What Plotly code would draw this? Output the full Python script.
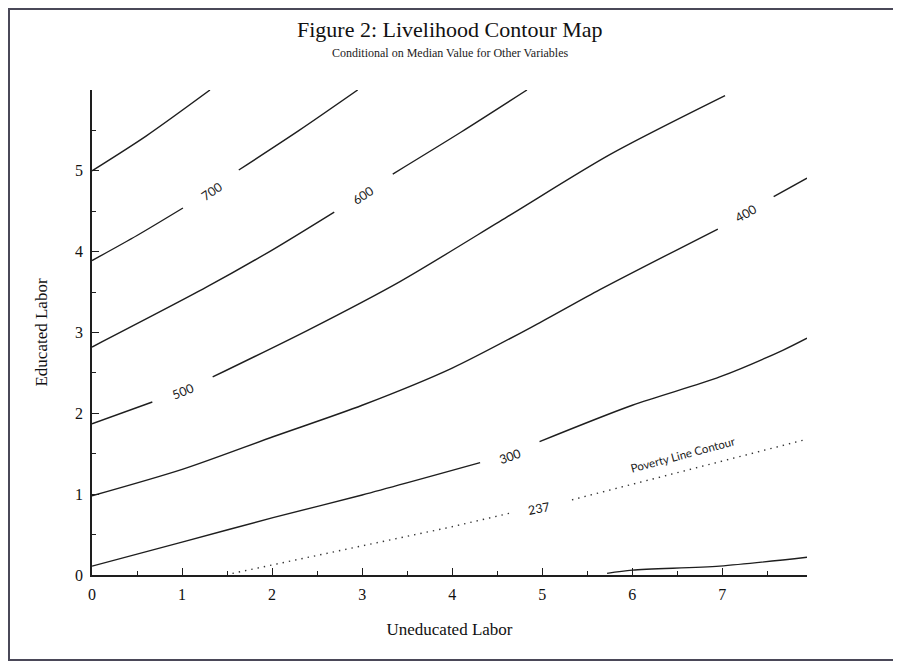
import plotly.graph_objects as go

# ---------------- data ----------------
x_ticks = [0, 1, 2, 3, 4, 5, 6, 7]
y_ticks = [0, 1, 2, 3, 4, 5]
x_minor = [0.5, 1.5, 2.5, 3.5, 4.5, 5.5, 6.5, 7.5]
y_minor = [0.5, 1.5, 2.5, 3.5, 4.5, 5.5]

# contour lines (None = gap where the label sits)
x_800 = [0.0, 0.6, 1.31]
y_800 = [5.0, 5.43, 6.0]

x_700 = [0.0, 0.5, 1.01, None, 1.63, 2.3, 2.95]
y_700 = [3.89, 4.2, 4.54, None, 5.01, 5.5, 6.0]

x_600 = [0.0, 1.27, 2.0, 2.69, None, 3.34, 4.1, 4.83]
y_600 = [2.82, 3.56, 4.02, 4.49, None, 4.96, 5.48, 6.0]

x_500 = [0.0, 0.67, None, 1.34, 2.4, 3.42, 4.61, 5.75, 7.03]
y_500 = [1.87, 2.14, None, 2.45, 3.03, 3.63, 4.43, 5.20, 5.93]

x_400 = [0.0, 1.01, 2.01, 3.0, 4.0, 4.97, 5.64, 6.95, None, 7.57, 7.94]
y_400 = [0.98, 1.31, 1.71, 2.1, 2.56, 3.12, 3.53, 4.28, None, 4.68, 4.91]

x_300 = [0.0, 1.01, 2.01, 3.0, 4.31, None, 4.97, 6.0, 6.97, 7.67, 7.94]
y_300 = [0.11, 0.41, 0.71, 0.99, 1.39, None, 1.65, 2.1, 2.45, 2.78, 2.93]

x_237 = [1.56, 3.42, 3.97, 4.66, None, 5.33, 7.94]
y_237 = [0.02, 0.46, 0.59, 0.77, None, 0.93, 1.68]

x_200 = [5.72, 6.0, 6.97, 7.94]
y_200 = [0.02, 0.06, 0.11, 0.22]

# contour labels: text, x, y, angle
label_text = ["700", "600", "500", "400", "300", "237", "Poverty Line Contour"]
label_x = [1.33, 3.01, 1.01, 7.26, 4.64, 4.96, 6.56]
label_y = [4.74, 4.70, 2.27, 4.47, 1.47, 0.82, 1.49]
label_angle = [-34, -33, -22, -30, -19, -11, -15]

title_text = "Figure 2: Livelihood Contour Map"
subtitle_text = "Conditional on Median Value for Other Variables"
x_title = "Uneducated Labor"
y_title = "Educated Labor"

# ---------------- figure ----------------
LINE = "#1e1e1e"
fig = go.Figure()

solid = [(x_800, y_800), (x_700, y_700), (x_600, y_600), (x_500, y_500),
         (x_400, y_400), (x_300, y_300), (x_200, y_200)]
for xs, ys in solid:
    fig.add_trace(go.Scatter(x=xs, y=ys, mode="lines", connectgaps=False,
                             line=dict(color=LINE, width=1.4, shape="spline", smoothing=0.8),
                             hoverinfo="skip", showlegend=False))

fig.add_trace(go.Scatter(x=x_237, y=y_237, mode="lines", connectgaps=False,
                         line=dict(color="#333333", width=1.4, dash="1.4px,5px"),
                         hoverinfo="skip", showlegend=False))

for t, lx, ly, a in zip(label_text, label_x, label_y, label_angle):
    fig.add_annotation(x=lx, y=ly, xref="x", yref="y", text=t, showarrow=False,
                       textangle=a, font=dict(family="Lato", size=12.5 if t[0].isdigit() else 11.5,
                                              color="#1a1a1a"))

# page body has an 8px margin: work in window pixels and shift by 8
OFF = 8
W, H = 901 - OFF, 664 - OFF
L, R, T, B = 92 - OFF, 807 - OFF, 90 - OFF, 575 - OFF


def px(v):
    return (v - OFF - L) / (R - L)


def py(v):
    return (B - (v - OFF)) / (B - T)


fig.add_annotation(x=px(450), y=py(29), xref="paper", yref="paper", text=title_text,
                   xanchor="center", yanchor="middle",
                   showarrow=False, font=dict(family="Liberation Serif", size=22, color="#111"))
fig.add_annotation(x=px(450), y=py(53), xref="paper", yref="paper", text=subtitle_text,
                   xanchor="center", yanchor="middle",
                   showarrow=False, font=dict(family="Liberation Serif", size=12, color="#222"))

fig.add_shape(type="rect", xref="paper", yref="paper",
              x0=px(9), x1=px(896), y0=py(660), y1=py(9),
              line=dict(color="#4a4858", width=2), fillcolor="rgba(0,0,0,0)")

fig.update_layout(
    width=W, height=H,
    margin=dict(l=L, r=W - R, t=T, b=H - B),
    paper_bgcolor="white", plot_bgcolor="white",
    showlegend=False,
)
fig.update_xaxes(range=[0, 7.94], showline=True, linecolor=LINE, linewidth=1.5,
                 showgrid=False, zeroline=False, ticks="inside", ticklen=7, tickwidth=1.2,
                 tickcolor=LINE, tickvals=x_ticks, ticktext=[str(v) for v in x_ticks],
                 minor=dict(ticks="inside", ticklen=4, tickwidth=1, tickcolor=LINE, tickvals=x_minor),
                 tickfont=dict(family="Liberation Serif", size=16, color="#111"),
                 ticklabelstandoff=4,
                 title=dict(text=x_title, standoff=21,
                            font=dict(family="Liberation Serif", size=17, color="#111")))
fig.update_yaxes(range=[0, 6], showline=True, linecolor=LINE, linewidth=1.5,
                 showgrid=False, zeroline=False, ticks="inside", ticklen=7, tickwidth=1.2,
                 tickcolor=LINE, tickvals=y_ticks, ticktext=[str(v) for v in y_ticks],
                 minor=dict(ticks="inside", ticklen=4, tickwidth=1, tickcolor=LINE, tickvals=y_minor),
                 tickfont=dict(family="Liberation Serif", size=16, color="#111"),
                 ticklabelstandoff=4,
                 title=dict(text=y_title, standoff=23,
                            font=dict(family="Liberation Serif", size=17, color="#111")))

fig.write_html("out.html")
